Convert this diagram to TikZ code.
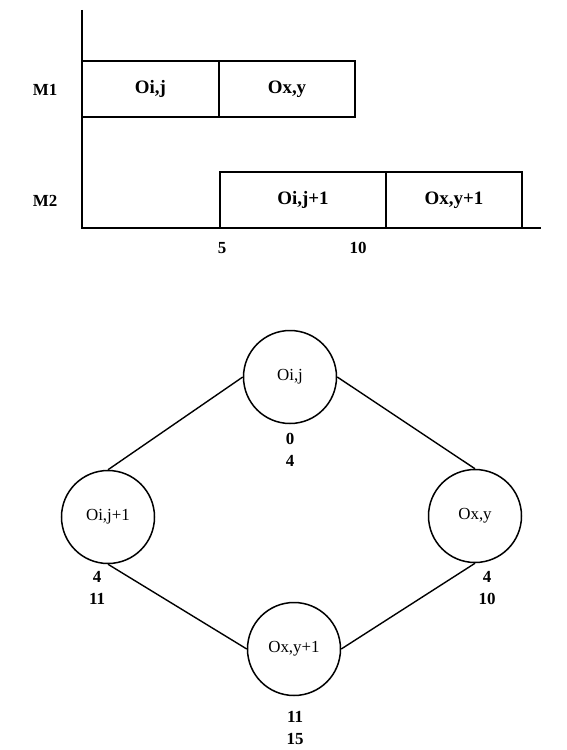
\documentclass[tikz,border=0pt]{standalone}
\usepackage{fontspec}
\setmainfont{Liberation Serif}
\begin{document}
\begin{tikzpicture}[x=1bp,y=-1bp,
  line width=1.5bp,
  job/.style={draw, rectangle, inner sep=0pt, minimum height=56bp,
    font=\fontsize{19}{22}\selectfont\bfseries},
  mach/.style={font=\fontsize{17}{20}\selectfont\bfseries},
  tick/.style={font=\fontsize{17}{20}\selectfont\bfseries},
  op/.style={draw, circle, inner sep=0pt, minimum size=93bp,
    font=\fontsize{17}{20}\selectfont},
  times/.style={align=center, font=\fontsize{17}{20}\selectfont\bfseries,
    inner sep=0pt},
  arc/.style={line width=1.4bp}]
\useasboundingbox (0,0) rectangle (567,750);

% Gantt chart: axes
\coordinate (ytop) at (82,10);
\coordinate (origin) at (82,228);
\coordinate (xend) at (541,228);
\draw (ytop) -- (origin) -- (xend);

% machine rows
\node[mach] (m1) at (45,90) {M1};
\node[mach] (m2) at (45,201) {M2};

% operations on M1
\node[job, minimum width=137bp] (g1) at (150.5,89) {Oi,j};
\node[job, minimum width=136bp] (g2) at (287,89) {Ox,y};
% operations on M2
\node[job, minimum width=166bp] (g3) at (303,200) {Oi,j+1};
\node[job, minimum width=136bp] (g4) at (454,200) {Ox,y+1};

% time marks
\node[tick] (t5) at (222,248) {5};
\node[tick] (t10) at (358,248) {10};

% disjunctive graph
\node[op] (a) at (290,377) {Oi,j};
\node[op] (b) at (108,517) {Oi,j+1};
\node[op] (c) at (475,516) {Ox,y};
\node[op] (d) at (294,649) {Ox,y+1};

\draw[arc] (a.west) -- (b.north);
\draw[arc] (a.east) -- (c.north);
\draw[arc] (b.south) -- (d.west);
\draw[arc] (c.south) -- (d.east);

% start / finish times
\node[times] (ta) at (290,450) {0\\[2bp]4};
\node[times] (tb) at (97,588) {4\\[2bp]11};
\node[times] (tc) at (487,588) {4\\[2bp]10};
\node[times] (td) at (295,728) {11\\[2bp]15};
\end{tikzpicture}
\end{document}
